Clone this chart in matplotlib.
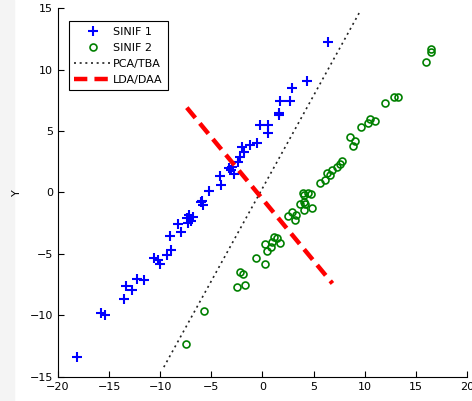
import matplotlib
matplotlib.use("Agg")
import matplotlib.pyplot as plt
from matplotlib.patches import Rectangle

# class 1 (blue +)
s1_x = [-18.1, -15.8, -15.4, -13.5, -13.4, -12.8, -12.3, -11.6, -10.6, -10.2, -10.0,
        -9.3, -8.9, -9.0, -8.0, -8.3, -7.4, -7.2, -6.8, -7.3, -7.0, -6.0, -5.9, -5.8,
        -5.25, -4.1, -4.2, -3.3, -3.0, -2.8, -3.1, -2.4, -2.15, -1.85, -2.0, -1.2,
        -0.5, -0.2, 0.5, 0.5, 1.6, 1.6, 1.7, 2.7, 2.85, 4.4, 6.4]
s1_y = [-13.4, -9.8, -10.0, -8.7, -7.6, -7.95, -7.0, -7.1, -5.3, -5.5, -5.8,
        -5.1, -4.7, -3.5, -3.25, -2.6, -2.1, -1.8, -2.0, -2.5, -2.3, -0.8, -0.7, -1.0,
        0.1, 0.6, 1.3, 2.0, 2.1, 1.5, 1.8, 2.5, 2.9, 3.3, 3.7, 3.9,
        4.05, 5.5, 5.5, 4.8, 6.3, 6.45, 7.4, 7.4, 8.5, 9.1, 12.2]

# class 2 (green o)
s2_x = [-7.45, -5.7, -2.5, -1.75, -2.15, -1.9, -0.6, 0.3, 0.3, 0.45, 0.8, 1.1, 1.45,
        1.75, 0.95, 2.55, 2.9, 3.2, 3.3, 3.65, 4.05, 4.2, 4.05, 4.5, 3.95, 4.75, 4.1,
        4.85, 5.6, 6.15, 6.35, 6.65, 6.8, 7.3, 7.6, 7.8, 8.85, 9.1, 8.6, 9.6, 10.3,
        10.5, 11.0, 12.0, 12.9, 13.3, 16.0, 16.5, 16.5]
s2_y = [-12.3, -9.65, -7.7, -7.55, -6.45, -6.65, -5.35, -5.8, -4.2, -4.75, -4.4, -3.6, -3.7,
        -4.1, -4.0, -1.95, -1.55, -2.25, -1.85, -0.9, -0.2, -0.9, -1.4, -0.05, -0.05, -0.1, -0.75,
        -1.3, 0.75, 1.0, 1.55, 1.4, 1.85, 2.1, 2.35, 2.6, 3.8, 4.2, 4.5, 5.3, 5.65,
        6.0, 5.85, 7.25, 7.8, 7.8, 10.6, 11.45, 11.65]

pca_x = [-9.65, 9.6]
pca_y = [-14.2, 14.8]
lda_x = [-7.4, 6.85]
lda_y = [6.9, -7.4]

fig = plt.figure(figsize=(4.72, 4.01), dpi=100)
fig.patches.append(Rectangle((0, 0), 14 / 472, 1, transform=fig.transFigure,
                             color="#f4f4f4", zorder=-1))
ax = fig.add_axes([0.123, 0.06, 0.866, 0.92])

ax.plot(s1_x, s1_y, "+", color="#0000ff", ms=6.5, mew=1.5, ls="none", label="SINIF 1")
ax.plot(s2_x, s2_y, "o", color="#008000", mfc="none", ms=5, mew=1.2, ls="none",
        label="SINIF 2")
ax.plot(pca_x, pca_y, ls=(0, (1.2, 2.2)), color="#222222", lw=1.2, label="PCA/TBA")
ax.plot(lda_x, lda_y, ls=(0, (3, 1.6)), color="#ff0000", lw=3.2, label="LDA/DAA")

ax.set_xlim(-20, 20)
ax.set_ylim(-15, 15)
ax.set_xticks([-20, -15, -10, -5, 0, 5, 10, 15, 20])
ax.set_yticks([-15, -10, -5, 0, 5, 10, 15])
ax.spines["top"].set_visible(False)
ax.spines["right"].set_visible(False)
ax.tick_params(direction="in", length=4, labelsize=8, width=0.8)
ax.set_ylabel("Y", fontsize=8, labelpad=6)

leg = ax.legend(loc="upper left", bbox_to_anchor=(0.012, 0.98), fontsize=8,
                fancybox=False, framealpha=1, edgecolor="black",
                handlelength=3.4, handletextpad=0.1, borderpad=0.5, labelspacing=0.55)
leg.get_frame().set_linewidth(0.8)

fig.savefig("out.png", dpi=100)
